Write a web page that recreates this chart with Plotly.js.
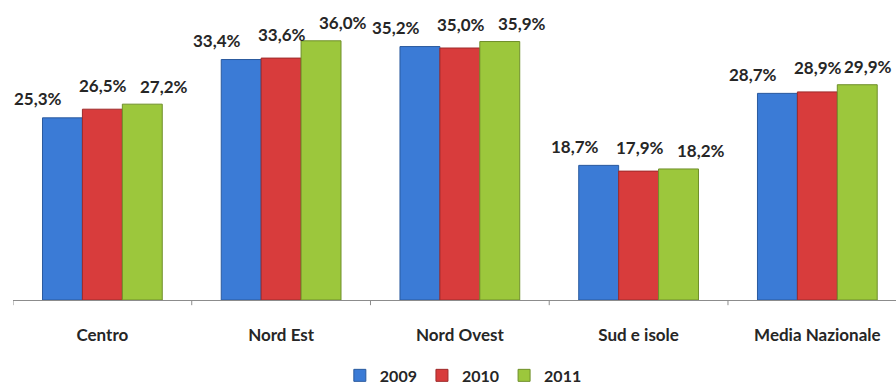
<!DOCTYPE html>
<html>
<head>
<meta charset="utf-8">
<script src="https://cdn.plot.ly/plotly-3.0.1.min.js"></script>
<style>
  html, body { margin: 0; padding: 0; background: #ffffff; }
  #chart { width: 896px; height: 387px; }
</style>
</head>
<body>
<div id="chart"></div>
<script>
// Regional shares by year (%)
const categories = ["Centro", "Nord Est", "Nord Ovest", "Sud e isole", "Media Nazionale"];
const years = ["2009", "2010", "2011"];
const values2009 = [25.3, 33.4, 35.2, 18.7, 28.7];
const values2010 = [26.5, 33.6, 35.0, 17.9, 28.9];
const values2011 = [27.2, 36.0, 35.9, 18.2, 29.9];

const seriesValues = [values2009, values2010, values2011];

// Fill, outline and value-label nudges for each year
const seriesStyle = [
  { fill: "#3b7bd6", edge: "#2a5a9e", dx: -24, dy: 19 },
  { fill: "#d83c3c", edge: "#9e2a2a", dx: 1,   dy: 24 },
  { fill: "#9cc73c", edge: "#6f8f2a", dx: 22,  dy: 18 }
];

const W = 896, H = 387;
const margin = { l: 13, r: 0, t: 12, b: 87 };
const xRange = [-0.5, 4.44];
const pxPerUnit = (W - margin.l - margin.r) / (xRange[1] - xRange[0]);

const bargap = 0.33;
const barWidth = (1 - bargap) / years.length;
const labelHalfWidth = 26;

const fmt = v => v.toFixed(1).replace(".", ",") + "%";

const traces = years.map((yr, j) => ({
  type: "bar",
  name: yr,
  x: categories.map((_, i) => i),
  y: seriesValues[j],
  marker: {
    color: seriesStyle[j].fill,
    line: { color: seriesStyle[j].edge, width: 1 }
  },
  hoverinfo: "none"
}));

const fontFamily = "Lato, 'DejaVu Sans', sans-serif";
const labelFont = { family: fontFamily, size: 17, color: "#262626", weight: "bold" };

// Value labels above each bar, kept inside the right edge of the page
const annotations = [];
years.forEach((yr, j) => {
  seriesValues[j].forEach((v, i) => {
    const xData = i + (j - (years.length - 1) / 2) * barWidth;
    const xPx = margin.l + (xData - xRange[0]) * pxPerUnit;
    let dx = seriesStyle[j].dx;
    if (xPx + dx + labelHalfWidth > W - 2) dx = W - 2 - labelHalfWidth - xPx;
    annotations.push({
      x: xData,
      y: v,
      xref: "x",
      yref: "y",
      text: fmt(v),
      showarrow: false,
      xanchor: "center",
      yanchor: "middle",
      xshift: dx,
      yshift: seriesStyle[j].dy,
      font: labelFont
    });
  });
});

const layout = {
  width: W,
  height: H,
  margin: { l: margin.l, r: margin.r, t: margin.t, b: margin.b, pad: 0, autoexpand: false },
  paper_bgcolor: "#ffffff",
  plot_bgcolor: "#ffffff",
  barmode: "group",
  bargap: bargap,
  bargroupgap: 0,
  showlegend: true,
  legend: {
    orientation: "h",
    x: 0.51,
    xanchor: "center",
    y: -0.262,
    yanchor: "middle",
    font: { family: fontFamily, size: 16, color: "#262626", weight: "bold" },
    itemwidth: 30,
    traceorder: "normal"
  },
  xaxis: {
    type: "linear",
    range: xRange,
    tickmode: "array",
    tickvals: categories.map((_, i) => i),
    ticktext: categories,
    ticks: "",
    showline: true,
    linecolor: "#8c8c8c",
    linewidth: 1,
    showgrid: false,
    zeroline: false,
    tickfont: { family: fontFamily, size: 17, color: "#262626", weight: "bold" },
    ticklabelstandoff: 20,
    fixedrange: true
  },
  yaxis: {
    range: [0, 40],
    showticklabels: false,
    ticks: "",
    showgrid: false,
    zeroline: false,
    showline: false,
    fixedrange: true
  },
  annotations: annotations,
  // Tick marks on the category boundaries
  shapes: categories.map((_, i) => ({
    type: "line",
    xref: "x",
    yref: "paper",
    x0: i - 0.5,
    x1: i - 0.5,
    y0: 0,
    y1: -0.018,
    line: { color: "#8c8c8c", width: 1 }
  }))
};

Plotly.newPlot("chart", traces, layout, { displayModeBar: false, staticPlot: true });
</script>
</body>
</html>
